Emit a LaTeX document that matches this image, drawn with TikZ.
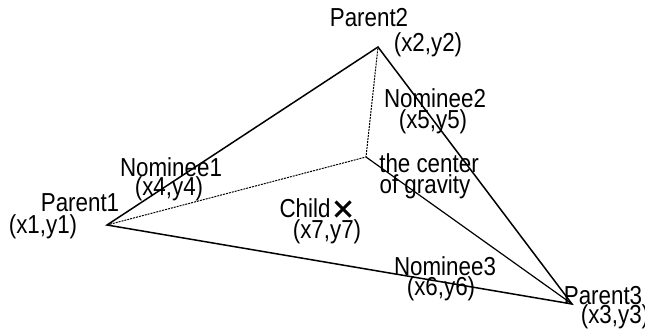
\documentclass[tikz,border=0pt]{standalone}
\usepackage{fontspec}
\setmainfont{Liberation Sans}[FakeStretch=0.86]
\usetikzlibrary{shapes.misc}

\begin{document}
\begin{tikzpicture}[x=1pt,y=-1pt,every node/.style={inner sep=0pt,font=\fontsize{26}{28}\selectfont}]
        \useasboundingbox (0,0) rectangle (645,331);
        \coordinate (p1) at (107,225);
        \coordinate (p2) at (378,47);
        \coordinate (p3) at (572,304);
        \coordinate (g) at (366,157);
        \draw[line width=1.5pt] (p1) -- (p2) -- (p3) -- cycle;
        \draw[line width=1.2pt] (g) -- (p3);
        \draw[line width=1pt,dash pattern=on 2pt off 1pt] (p1) -- (g) -- (p2);
        \node (par1) at (80,203) {Parent1};
        \node (xy1) at (43,227) {(x1,y1)};
        \node (par2) at (369,18) {Parent2};
        \node (xy2) at (428,45) {(x2,y2)};
        \node (par3) at (603,296) {Parent3};
        \node (xy3) at (615,317) {(x3,y3)};
        \node (nom1) at (171,167) {Nominee1};
        \node (xy4) at (169,189) {(x4,y4)};
        \node (nom2) at (435,98) {Nominee2};
        \node (xy5) at (433,122) {(x5,y5)};
        \node (nom3) at (445,266) {Nominee3};
        \node (xy6) at (441,289) {(x6,y6)};
        \node (cg1) at (429,163) {the center};
        \node (cg2) at (425,187) {of gravity};
        \node (ch) at (305,208) {Child};
        \node[draw,cross out,line width=3pt,minimum size=12pt] (cx) at (343,209) {};
        \node (xy7) at (327,232) {(x7,y7)};
      \end{tikzpicture}
\end{document}
